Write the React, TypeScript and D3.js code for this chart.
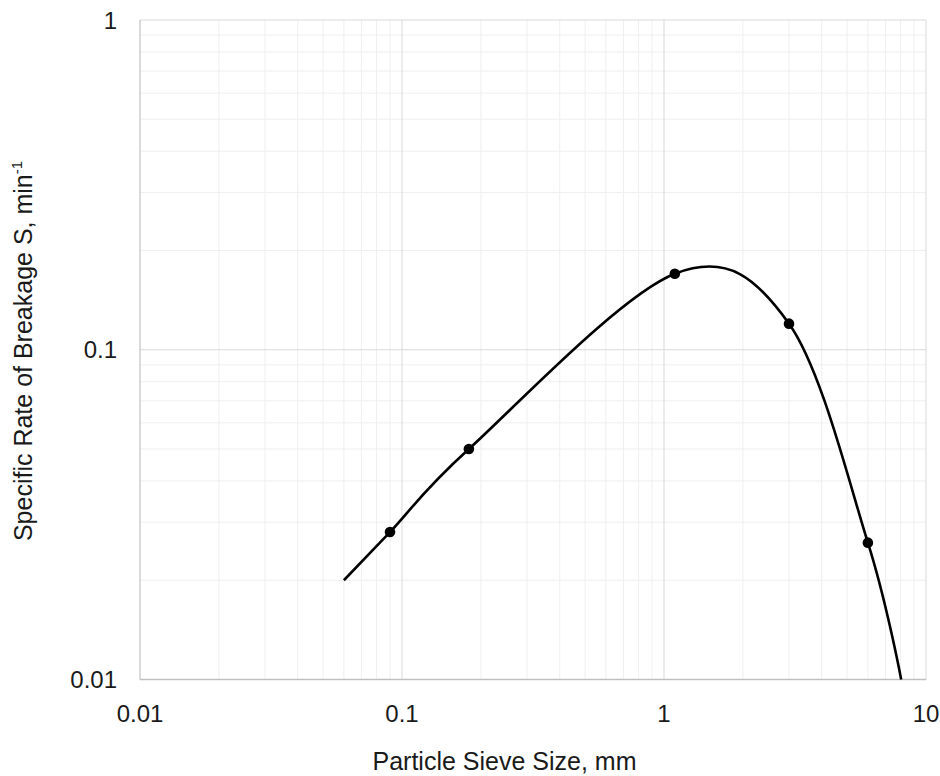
import React from "react";
import * as d3 from "d3";

const xTickValues = [0.01, 0.1, 1, 10];
const xTickLabels = ["0.01", "0.1", "1", "10"];
const yTickValues = [0.01, 0.1, 1];
const yTickLabels = ["0.01", "0.1", "1"];

const pointsX = [0.09, 0.18, 1.1, 3.0, 6.0];
const pointsY = [0.028, 0.05, 0.17, 0.12, 0.026];

const curveX = [0.06, 0.09, 0.18, 1.1, 3.0, 6.0, 8.04];
const curveY = [0.02, 0.028, 0.05, 0.17, 0.12, 0.026, 0.01];

const xTitle = "Particle Sieve Size, mm";
const yTitle = "Specific Rate of Breakage S, min";
const yTitleSup = "-1";

export default function App() {
  const W = 940, H = 776;
  const left = 140, right = 926, top = 20, bottom = 679.5;
  const x = d3.scaleLog().domain([0.01, 10]).range([left, right]);
  const y = d3.scaleLog().domain([0.01, 1]).range([bottom, top]);

  const minorX: number[] = [];
  for (let p = -2; p < 1; p++) for (let m = 2; m <= 9; m++) minorX.push(m * Math.pow(10, p));
  const minorY: number[] = [];
  for (let p = -2; p < 0; p++) for (let m = 2; m <= 9; m++) minorY.push(m * Math.pow(10, p));

  const line = d3
    .line<number>()
    .x((_, i) => x(curveX[i]))
    .y((_, i) => y(curveY[i]))
    .curve(d3.curveCardinal.tension(0));
  const path = line(curveX) || "";

  const font = "'Liberation Sans', Arial, sans-serif";
  const textColor = "#1a1a1a";

  return (
    <svg width={W} height={H} style={{ position: "absolute", left: 0, top: 0, background: "#fff" }} fontFamily={font}>
      <rect x={0} y={0} width={W} height={H} fill="#fff" />
      {minorX.map((v, i) => (
        <line key={"mx" + i} x1={x(v)} x2={x(v)} y1={top} y2={bottom} stroke="#efefef" strokeWidth={1} />
      ))}
      {minorY.map((v, i) => (
        <line key={"my" + i} x1={left} x2={right} y1={y(v)} y2={y(v)} stroke="#efefef" strokeWidth={1} />
      ))}
      {xTickValues.map((v, i) => (
        <line key={"Mx" + i} x1={x(v)} x2={x(v)} y1={top} y2={bottom} stroke="#d9d9d9" strokeWidth={1} />
      ))}
      {yTickValues.map((v, i) => (
        <line key={"My" + i} x1={left} x2={right} y1={y(v)} y2={y(v)} stroke="#d9d9d9" strokeWidth={1} />
      ))}
      <line x1={left} x2={left} y1={top} y2={bottom} stroke="#c8c8c8" strokeWidth={1} />
      <line x1={left} x2={right} y1={bottom} y2={bottom} stroke="#bfbfbf" strokeWidth={1.3} />

      <path d={path} fill="none" stroke="#000" strokeWidth={2.6} />
      {pointsX.map((v, i) => (
        <circle key={"p" + i} cx={x(v)} cy={y(pointsY[i])} r={5.3} fill="#000" />
      ))}

      {xTickValues.map((v, i) => (
        <text key={"xt" + i} x={x(v)} y={722} textAnchor="middle" fontSize={24} fill={textColor}>
          {xTickLabels[i]}
        </text>
      ))}
      {yTickValues.map((v, i) => (
        <text key={"yt" + i} x={117} y={y(v) + 8.6} textAnchor="end" fontSize={24} fill={textColor}>
          {yTickLabels[i]}
        </text>
      ))}

      <text x={504.5} y={770} textAnchor="middle" fontSize={25} fill={textColor}>
        {xTitle}
      </text>
      <text transform={`translate(32,351) rotate(-90)`} textAnchor="middle" fontSize={25} fill={textColor}>
        {yTitle}
        <tspan fontSize={15} dy={-10}>{yTitleSup}</tspan>
      </text>
    </svg>
  );
}
